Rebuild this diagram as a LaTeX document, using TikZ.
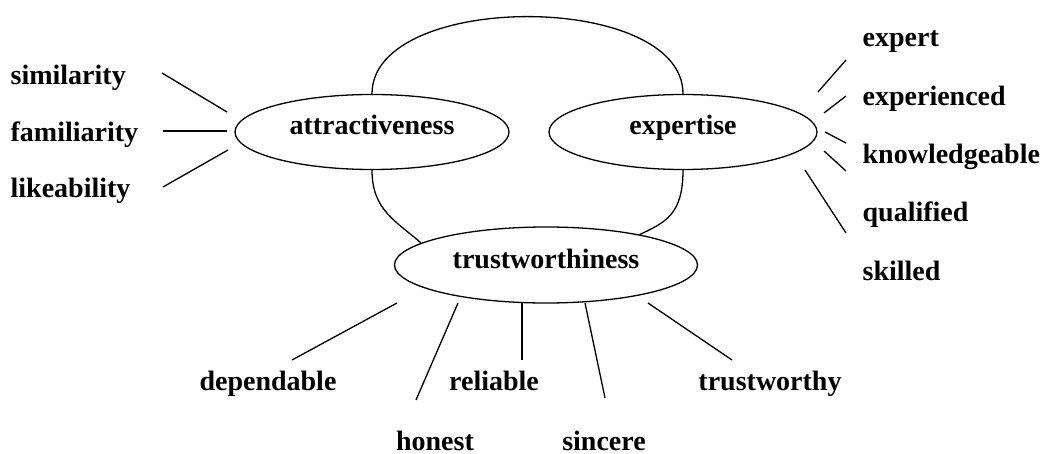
\documentclass[tikz,border=0pt]{standalone}
\usepackage{fontspec}
\setmainfont{Liberation Serif}
\usetikzlibrary{shapes.geometric}

\begin{document}
\begin{tikzpicture}[x=1pt,y=-1pt,-,line width=1.3pt,
  every node/.style={font=\fontsize{28}{30}\selectfont\bfseries},
  factor/.style={draw,ellipse,inner sep=0pt,text height=18pt,text depth=12pt},
  item/.style={inner sep=0pt}]
\useasboundingbox (0,0) rectangle (1043,454);
%the three factors
\node[factor,minimum width=274pt,minimum height=75pt] (attr) at (372,132) {attractiveness};
\node[factor,minimum width=268pt,minimum height=75pt] (expt) at (683,132) {expertise};
\node[factor,minimum width=303pt,minimum height=76pt] (trust) at (546,265) {trustworthiness};
%arcs between the factors
\draw (attr.north) .. controls +(0,-103) and +(0,-103) .. (expt.north);
\draw (attr.south) .. controls +(0,40) and +(-25,-22) .. (trust.170);
\draw (expt.south) .. controls +(0,45) and +(25,-12) .. (trust.18);
%attractiveness items
\node[item,anchor=base west] (sim) at (10,85) {similarity};
\node[item,anchor=base west] (fam) at (10,142) {familiarity};
\node[item,anchor=base west] (lik) at (10,198) {likeability};
\coordinate (sim1) at (162,73);  \coordinate (sim2) at (227,112);
\coordinate (fam1) at (163,131); \coordinate (fam2) at (227,131);
\coordinate (lik1) at (163,187); \coordinate (lik2) at (228,150);
\draw (sim1) -- (sim2);
\draw (fam1) -- (fam2);
\draw (lik1) -- (lik2);
%expertise items
\node[item,anchor=base west] (exp) at (862,47) {expert};
\node[item,anchor=base west] (exd) at (862,106) {experienced};
\node[item,anchor=base west] (kno) at (862,164) {knowledgeable};
\node[item,anchor=base west] (qua) at (862,222) {qualified};
\node[item,anchor=base west] (ski) at (862,280) {skilled};
\coordinate (exp1) at (818,92);  \coordinate (exp2) at (846,60);
\coordinate (exd1) at (824,113); \coordinate (exd2) at (846,96);
\coordinate (kno1) at (825,132); \coordinate (kno2) at (846,143);
\coordinate (qua1) at (824,151); \coordinate (qua2) at (846,171);
\coordinate (ski1) at (805,170); \coordinate (ski2) at (846,233);
\draw (exp1) -- (exp2);
\draw (exd1) -- (exd2);
\draw (kno1) -- (kno2);
\draw (qua1) -- (qua2);
\draw (ski1) -- (ski2);
%trustworthiness items
\node[item,anchor=base] (dep) at (268,390) {dependable};
\node[item,anchor=base] (hon) at (435,450) {honest};
\node[item,anchor=base] (rel) at (494,390) {reliable};
\node[item,anchor=base] (sin) at (604,450) {sincere};
\node[item,anchor=base] (tru) at (770,390) {trustworthy};
\coordinate (dep1) at (397,303); \coordinate (dep2) at (292,360);
\coordinate (hon1) at (458,303); \coordinate (hon2) at (416,400);
\coordinate (rel1) at (522,303); \coordinate (rel2) at (522,360);
\coordinate (sin1) at (585,303); \coordinate (sin2) at (605,398);
\coordinate (tru1) at (648,303); \coordinate (tru2) at (732,360);
\draw (dep1) -- (dep2);
\draw (hon1) -- (hon2);
\draw (rel1) -- (rel2);
\draw (sin1) -- (sin2);
\draw (tru1) -- (tru2);
\end{tikzpicture}
\end{document}
